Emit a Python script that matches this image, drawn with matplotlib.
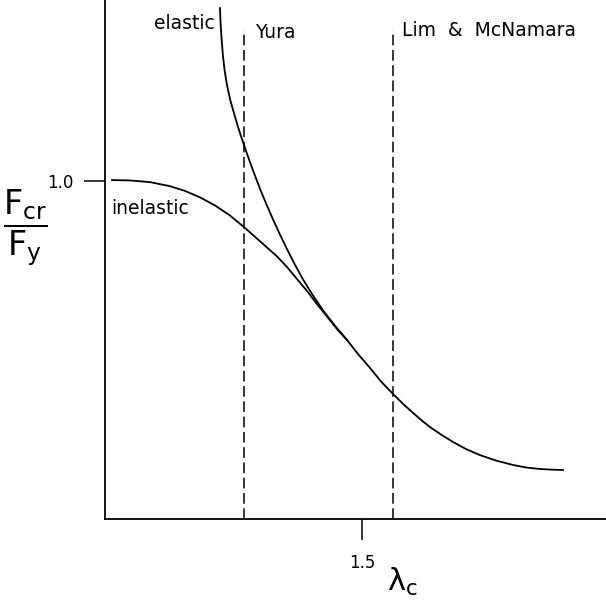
import matplotlib
matplotlib.use('Agg')
import matplotlib.pyplot as plt

plt.rcParams['font.family'] = ['DejaVu Sans']
plt.rcParams['mathtext.fontset'] = 'dejavusans'

# curve points (lambda_c, Fcr/Fy)
elastic_x = [0.671, 0.675, 0.681, 0.688, 0.698, 0.712, 0.731, 0.756, 0.782,
             0.811, 0.842, 0.874, 0.908, 0.944, 0.982, 1.023, 1.065, 1.110,
             1.158, 1.212, 1.272, 1.339, 1.412]
elastic_y = [1.512, 1.462, 1.417, 1.373, 1.328, 1.284, 1.240, 1.195, 1.151,
             1.107, 1.062, 1.018, 0.973, 0.929, 0.885, 0.840, 0.796, 0.751,
             0.707, 0.663, 0.618, 0.574, 0.530]

inelastic_x = [0.041, 0.146, 0.263, 0.379, 0.467, 0.554, 0.642, 0.730, 0.811,
               0.876, 0.940, 1.004, 1.062, 1.121, 1.179, 1.237, 1.296, 1.354,
               1.412, 1.477, 1.547, 1.611, 1.681, 1.739, 1.798, 1.850, 1.897,
               1.961, 2.031, 2.107, 2.189, 2.282, 2.381, 2.463, 2.539, 2.609,
               2.673]
inelastic_y = [1.003, 1.002, 0.997, 0.985, 0.971, 0.952, 0.928, 0.898, 0.864,
               0.835, 0.806, 0.777, 0.746, 0.710, 0.675, 0.636, 0.599, 0.562,
               0.530, 0.488, 0.447, 0.407, 0.370, 0.341, 0.314, 0.291, 0.272,
               0.250, 0.228, 0.207, 0.189, 0.173, 0.160, 0.152, 0.148, 0.146,
               0.145]

# limit lines
yura_x = 0.811
lim_x = 1.681
limit_top = 1.447

xticks = [1.5]
xtick_labels = ['1.5']
yticks = [1.0]
ytick_labels = ['1.0']

fig = plt.figure(figsize=(6.06, 6.00), dpi=100)
ax = fig.add_axes([105 / 606, 81 / 600, 501 / 606, 519 / 600])

ax.plot(elastic_x, elastic_y, color='black', lw=1.3, solid_joinstyle='round')
ax.plot(inelastic_x, inelastic_y, color='black', lw=1.3, solid_joinstyle='round')

ax.vlines([yura_x, lim_x], 0, limit_top, colors='black', lw=1.1,
          linestyles=[(0, (7, 3))])

ax.set_xlim(0, 2.924)
ax.set_ylim(0, 1.536)
ax.spines['top'].set_visible(False)
ax.spines['right'].set_visible(False)
ax.spines['left'].set_linewidth(1.3)
ax.spines['bottom'].set_linewidth(1.3)

ax.set_xticks(xticks)
ax.set_xticklabels(xtick_labels)
ax.set_yticks(yticks)
ax.set_yticklabels(ytick_labels)
ax.tick_params(axis='both', direction='out', length=15, width=1.1, labelsize=12)
ax.tick_params(axis='x', pad=10)
ax.tick_params(axis='y', pad=8)

ax.text(0.671 - 0.03, 1.465, 'elastic', ha='right', va='center', fontsize=13.5)
ax.text(0.035, 0.92, 'inelastic', ha='left', va='center', fontsize=13.5)
ax.text(yura_x + 0.065, 1.44, 'Yura', ha='left', va='center', fontsize=13.5)
ax.text(lim_x + 0.055, 1.447, 'Lim  &  McNamara', ha='left', va='center', fontsize=13.5)

fig.text(25 / 606, 1 - 228 / 600,
         r'$\dfrac{\mathrm{F}_{\mathrm{cr}}}{\mathrm{F}_{\mathrm{y}}}$',
         ha='center', va='center', fontsize=24)
fig.text(402 / 606, 2 / 600, r'$\mathrm{λ}_{\mathrm{c}}$',
         ha='center', va='bottom', fontsize=22)

fig.savefig('out.png', dpi=100)
